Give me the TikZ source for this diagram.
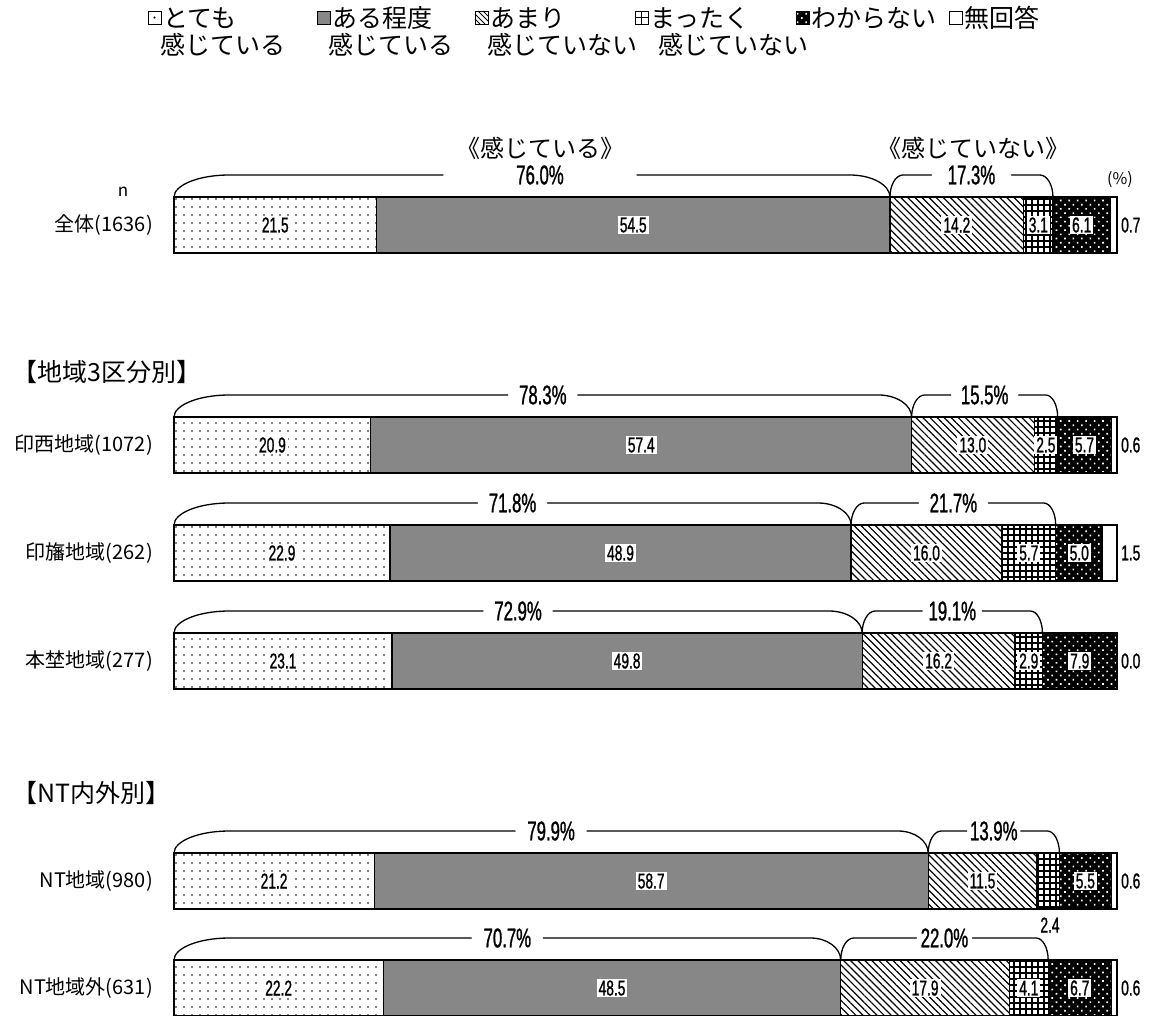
\documentclass[tikz,border=0pt]{standalone}
\usepackage{fontspec}
\setmainfont{Noto Sans CJK JP}
\newfontfamily\numf[FakeStretch=0.64,FakeBold=1]{Liberation Sans}
\newfontfamily\pctf[FakeStretch=0.62,FakeBold=1]{Liberation Sans}
\usetikzlibrary{patterns.meta}

\tikzset{
 seg/.style={draw=black, line width=1.2pt},
 pA/.style={pattern={Dots[distance=8pt,radius=0.95pt]}, pattern color=black},
 pB/.style={fill=black!47},
 pC/.style={pattern={Lines[angle=-45,distance=5pt,line width=1.2pt]}, pattern color=black},
 pD/.style={pattern={Hatch[distance=6pt,line width=1.1pt]}, pattern color=black},
 pE/.style={preaction={fill=black}, pattern={Dots[distance=6pt,radius=1.2pt,angle=45]}, pattern color=white},
 pF/.style={fill=white},
 numlbl/.style={fill=white, inner xsep=2pt, inner ysep=1.5pt, font={\numf\fontsize{21.5}{22}\selectfont}},
 outlbl/.style={anchor=west, inner sep=0pt, font={\numf\fontsize{21.5}{22}\selectfont}},
 rowlbl/.style={anchor=east, inner sep=0pt, font={\fontsize{20}{21}\selectfont}},
 brk/.style={line width=1.3pt, line cap=round},
 pct/.style={inner sep=0pt, font={\pctf\fontsize{27}{28}\selectfont}},
 ttl/.style={inner sep=0pt, font={\fontsize{24}{25}\selectfont}},
 leg/.style={anchor=west, inner sep=0pt, font={\fontsize{25}{26}\selectfont}},
 hdr/.style={anchor=west, inner sep=0pt, font={\fontsize{25}{26}\selectfont}},
 legbox/.style={draw=black, line width=0.8pt},
}

% #1 name, #2 top y, #3..#8 values, #9 label of 4th segment (may be empty)
\newcommand\chartrow[9]{%
 \pgfmathsetmacro\sgT{#3+#4+#5+#6+#7+#8}%
 \pgfmathsetmacro\sgK{943/\sgT}%
 \pgfmathsetmacro\sgA{174+#3*\sgK}%
 \pgfmathsetmacro\sgB{\sgA+#4*\sgK}%
 \pgfmathsetmacro\sgC{\sgB+#5*\sgK}%
 \pgfmathsetmacro\sgD{\sgC+#6*\sgK}%
 \pgfmathsetmacro\sgE{\sgD+#7*\sgK}%
 \pgfmathsetmacro\sgF{\sgE+#8*\sgK}%
 \pgfmathsetmacro\sgY{#2+56}%
 \pgfmathsetmacro\sgM{#2+28}%
 \path[pA] (174,#2) rectangle (\sgA,\sgY);
 \path[pB] (\sgA,#2) rectangle (\sgB,\sgY);
 \path[pC] (\sgB,#2) rectangle (\sgC,\sgY);
 \path[pD] (\sgC,#2) rectangle (\sgD,\sgY);
 \path[pE] (\sgD,#2) rectangle (\sgE,\sgY);
 \path[pF] (\sgE,#2) rectangle (\sgF,\sgY);
 \draw[seg] (174,#2) rectangle (\sgA,\sgY);
 \draw[seg] (\sgA,#2) rectangle (\sgB,\sgY);
 \draw[seg] (\sgB,#2) rectangle (\sgC,\sgY);
 \draw[seg] (\sgC,#2) rectangle (\sgD,\sgY);
 \draw[seg] (\sgD,#2) rectangle (\sgE,\sgY);
 \draw[seg] (\sgE,#2) rectangle (\sgF,\sgY);
 \node[numlbl] (#1-v1) at ({(174+\sgA)/2},\sgM) {#3};
 \node[numlbl] (#1-v2) at ({(\sgA+\sgB)/2},\sgM) {#4};
 \node[numlbl] (#1-v3) at ({(\sgB+\sgC)/2},\sgM) {#5};
 \if\relax\detokenize{#9}\relax\else
 \node[numlbl] (#1-v4) at ({(\sgC+\sgD)/2},\sgM) {#9};\fi
 \node[numlbl] (#1-v5) at ({(\sgD+\sgE)/2},\sgM) {#7};
 \node[outlbl] (#1-v6) at (1121,\sgM) {#8};
}

% #1 L, #2 R, #3 top, #4 rxL, #5 rxR, #6 centre x, #7 half gap, #8 text, #9 name
\newcommand\bracket[9]{%
 \pgfmathsetmacro\brY{#3-22}%
 \pgfmathsetmacro\brX{#6}%
 \draw[brk] (#1,#3) .. controls (#1,{#3-12}) and ({#1+0.45*#4},\brY) .. ({#1+#4},\brY) -- ({\brX-#7},\brY);
 \draw[brk] ({\brX+#7},\brY) -- ({#2-#5},\brY) .. controls ({#2-0.45*#5},\brY) and (#2,{#3-12}) .. (#2,#3);
 \node[pct] (#9) at (\brX,\brY) {#8};
}

\begin{document}
\begin{tikzpicture}[x=1pt,y=-1pt]
\useasboundingbox (0,0) rectangle (1158,1015);
\fill[white] (0,0) rectangle (1158,1015);

% legend
\path[fill=white,legbox] (148,11) rectangle (161,24);
\fill (154.5,17.5) circle (1.1pt);
\node[leg] (lg1) at (163,18) {とても};
\node[leg] (lg1b) at (160,45) {感じている};
\path[pB,legbox] (317,11) rectangle (330,24);
\node[leg] (lg2) at (332,18) {ある程度};
\node[leg] (lg2b) at (328,45) {感じている};
\path[legbox] (475,11) rectangle (488,24);
\draw[line width=0.8pt] (475,14) -- (485,24) (475,19) -- (480,24) (478,11) -- (488,21) (483,11) -- (488,16);
\node[leg] (lg3) at (490,18) {あまり};
\node[leg] (lg3b) at (487,45) {感じていない};
\path[legbox] (635,11) rectangle (648,24);
\draw[line width=0.8pt] (641.5,11) -- (641.5,24) (635,17.5) -- (648,17.5);
\node[leg] (lg4) at (650,18) {まったく};
\node[leg] (lg4b) at (658,45) {感じていない};
\path[pE,legbox] (796,11) rectangle (809,24);
\node[leg] (lg5) at (811,18) {わからない};
\path[legbox] (949,11) rectangle (962,24);
\node[leg] (lg6) at (964,18) {無回答};

% overall
\node[inner sep=0pt, font={\fontsize{17}{18}\selectfont}] (nlab) at (123,192) {n};
\node[inner sep=0pt, font={\fontsize{16}{17}\selectfont}] (pcunit) at (1120,180) {(\%)};
\node[rowlbl] (lab-all) at (153,225) {全体(1636)};
\chartrow{all}{197}{21.5}{54.5}{14.2}{3.1}{6.1}{0.7}{3.1}
\bracket{174}{\sgB}{197}{55}{40}{540}{97}{76.0\%}{all-b1}
\bracket{\sgB}{\sgD}{197}{13}{13}{(\sgB+\sgD)/2}{40}{17.3\%}{all-b2}
\node[ttl] (all-t1) at (540,148) {《感じている》};
\node[ttl] (all-t2) at (973,148) {《感じていない》};

% region 3
\node[hdr] (hdr1) at (12,372) {【地域3区分別】};
\node[rowlbl] (lab-inzai) at (153,445) {印西地域(1072)};
\chartrow{inzai}{417}{20.9}{57.4}{13.0}{2.5}{5.7}{0.6}{2.5}
\bracket{174}{\sgB}{417}{55}{33}{(174+\sgB)/2}{35}{78.3\%}{inzai-b1}
\bracket{\sgB}{\sgD}{417}{13}{12}{(\sgB+\sgD)/2}{34}{15.5\%}{inzai-b2}

\node[rowlbl] (lab-inba) at (153,553) {印旛地域(262)};
\chartrow{inba}{525}{22.9}{48.9}{16.0}{5.7}{5.0}{1.5}{5.7}
\bracket{174}{\sgB}{525}{55}{33}{(174+\sgB)/2}{35}{71.8\%}{inba-b1}
\bracket{\sgB}{\sgD}{525}{13}{12}{(\sgB+\sgD)/2}{35}{21.7\%}{inba-b2}

\node[rowlbl] (lab-motono) at (153,661) {本埜地域(277)};
\chartrow{motono}{633}{23.1}{49.8}{16.2}{2.9}{7.9}{0.0}{2.9}
\bracket{174}{\sgB}{633}{55}{33}{(174+\sgB)/2}{35}{72.9\%}{motono-b1}
\bracket{\sgB}{\sgD}{633}{13}{12}{(\sgB+\sgD)/2}{30}{19.1\%}{motono-b2}

% NT
\node[hdr] (hdr2) at (12,793) {【NT内外別】};
\node[rowlbl] (lab-nt) at (153,881) {NT地域(980)};
\chartrow{nt}{853}{21.2}{58.7}{11.5}{2.4}{5.5}{0.6}{}
\bracket{174}{\sgB}{853}{55}{30}{(174+\sgB)/2}{36}{79.9\%}{nt-b1}
\bracket{\sgB}{\sgD}{853}{13}{12}{(\sgB+\sgD)/2}{27}{13.9\%}{nt-b2}
\node[inner sep=0pt, font={\numf\fontsize{21.5}{22}\selectfont}] (nt-v4) at (1050,925) {2.4};

\node[rowlbl] (lab-ntout) at (153,988) {NT地域外(631)};
\chartrow{ntout}{960}{22.2}{48.5}{17.9}{4.1}{6.7}{0.6}{4.1}
\bracket{174}{\sgB}{960}{55}{30}{(174+\sgB)/2}{36}{70.7\%}{ntout-b1}
\bracket{\sgB}{\sgD}{960}{13}{12}{(\sgB+\sgD)/2}{28}{22.0\%}{ntout-b2}
\end{tikzpicture}
\end{document}
